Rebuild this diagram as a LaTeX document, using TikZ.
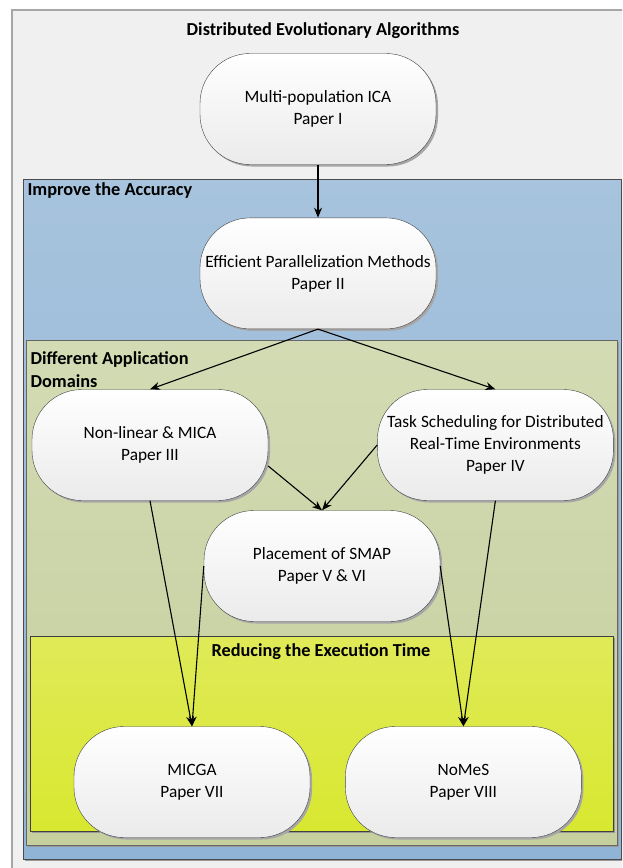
\documentclass[tikz,border=0pt]{standalone}
\usepackage{fontspec}
\setmainfont{Carlito}
\usepackage{tikz}
\usetikzlibrary{positioning,shadows,arrows.meta}

\definecolor{framegray}{HTML}{F0F0F0}
\definecolor{acctop}{HTML}{A7C3DD}
\definecolor{accbot}{HTML}{90B4D6}
\definecolor{domtop}{HTML}{D2DBB3}
\definecolor{dombot}{HTML}{C6CF9E}
\definecolor{redtop}{HTML}{E0EA58}
\definecolor{redbot}{HTML}{D8E830}

\tikzset{
  paper/.style={draw=black!75, rounded corners=50pt, minimum width=236pt,
    minimum height=111pt, inner sep=0pt, align=center, top color=white,
    bottom color=black!8, font=\fontsize{17.3}{22}\selectfont,
    drop shadow={shadow xshift=2pt, shadow yshift=-2pt, fill=black!35, opacity=1}},
  heading/.style={font=\bfseries\fontsize{18.3}{23}\selectfont},
  area/.style={drop shadow={shadow xshift=1.5pt, shadow yshift=-1.5pt, fill=black!40, opacity=1}},
  link/.style={-{Stealth[length=10pt,width=8pt]}, line width=1.1pt},
}

\begin{document}
\begin{tikzpicture}[x=1pt, y=-1pt]
    \useasboundingbox (0,0) rectangle (622,868);
    \clip (0,0) rectangle (622,868);

    % nested areas
    \draw[draw=black!35, line width=1.2pt, fill=framegray] (12,10) rectangle (650,890);
    \draw[area, draw=black!70, top color=acctop, bottom color=accbot] (23,179) rectangle (621,859);
    \draw[area, draw=black!60, top color=domtop, bottom color=dombot] (26,340) rectangle (617,845);
    \draw[area, draw=black!75, top color=redtop, bottom color=redbot] (30,636) rectangle (613,831);

    \node[heading] (title) at (323,31) {Distributed Evolutionary Algorithms};
    \node[heading, anchor=west] (acc) at (24,191) {Improve the Accuracy};
    \node[heading, anchor=west, align=left] (dom) at (27,370) {Different Application\\Domains};
    \node[heading] (red) at (321,652) {Reducing the Execution Time};

    % papers
    \node[paper] (p1) at (318,109) {Multi-population ICA\\Paper I};
    \node[paper, below = 53pt of p1] (p2) {Efficient Parallelization Methods\\Paper II};

    \node[paper] (p3) at (150,445) {Non-linear \& MICA\\Paper III};
    \node[paper, right = 109pt of p3] (p4) {Task Scheduling for Distributed\\Real-Time Environments\\Paper IV};

    \node[paper] (p5) at (322,566) {Placement of SMAP\\Paper V \& VI};

    \node[paper] (p6) at (192,782) {MICGA\\Paper VII};
    \node[paper, right = 35pt of p6] (p7) {NoMeS\\Paper VIII};

    \draw[link] (p1) -- (p2);
    \draw[link] (p2.south) -- (p3.north);
    \draw[link] (p2.south) -- (p4.north);

    \draw[link] ([yshift=-21pt]p3.east) -- (p5.north);
    \draw[link] (p4.west) -- (p5.north);

    \draw[link] (p3.south) -- (p6.north);
    \draw[link] (p5.west) -- (p6.north);
    \draw[link] (p5.east) -- (p7.north);
    \draw[link] (p4.south) -- (p7.north);
\end{tikzpicture}
\end{document}
